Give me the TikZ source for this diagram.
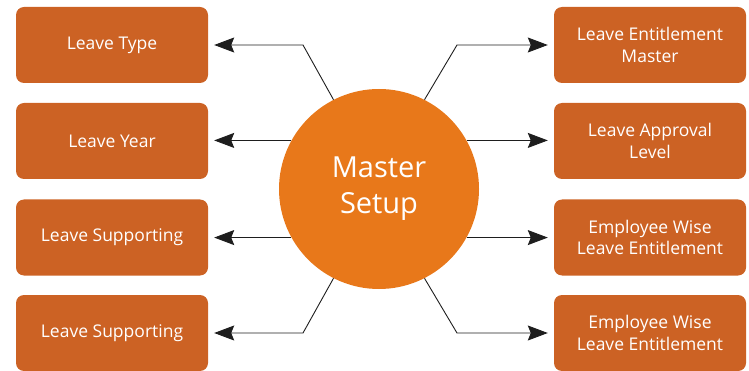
\documentclass[tikz,border=0pt]{standalone}
\usepackage{fontspec}
\setmainfont{Open Sans}
\usetikzlibrary{arrows.meta}
\definecolor{boxorange}{HTML}{CC6224}
\definecolor{circorange}{HTML}{E8781A}
\definecolor{linegray}{HTML}{1E1E1E}
\tikzset{
  setupbox/.style={fill=boxorange, rounded corners=8pt, minimum width=192pt, minimum height=76pt,
    text=white, align=center, font=\fontsize{17.5}{21.5}\selectfont, inner sep=0pt},
  link/.style={draw=linegray, line width=0.9pt, -{Stealth[length=20pt,width=15pt,inset=3pt]}, shorten >=6pt}
}
\begin{document}
\begin{tikzpicture}[x=1pt, y=-1pt]
    \useasboundingbox (0,0) rectangle (749,371);
    % Boxes
    \node[setupbox] (ltype) at (112,45) {Leave Type};
    \node[setupbox] (lyear) at (112,141) {Leave Year};
    \node[setupbox] (lsup1) at (112,237.5) {Leave Supporting};
    \node[setupbox] (lsup2) at (112,333) {Leave Supporting};
    \node[setupbox] (lentm) at (650,45) {Leave Entitlement\\Master};
    \node[setupbox] (lappr) at (650,141) {Leave Approval\\Level};
    \node[setupbox] (ewle1) at (650,237.5) {Employee Wise\\Leave Entitlement};
    \node[setupbox] (ewle2) at (650,333) {Employee Wise\\Leave Entitlement};

    % Centre
    \node[circle, fill=circorange, minimum size=200pt, inner sep=0pt, text=white, align=center,
      font=\fontsize{29}{36}\selectfont] (master) at (379,189) {Master\\Setup};

    % Knees
    \coordinate (kl1) at (303,45);
    \coordinate (kl4) at (303,333);
    \coordinate (kr1) at (457,45);
    \coordinate (kr4) at (457,333);

    % Connections
    \draw[link] (master.117) -- (kl1) -- (ltype.east);
    \draw[link] (master.151) -- (master.151 -| lyear.east);
    \draw[link] (master.209) -- (master.209 -| lsup1.east);
    \draw[link] (master.243) -- (kl4) -- (lsup2.east);
    \draw[link] (master.63) -- (kr1) -- (lentm.west);
    \draw[link] (master.29) -- (master.29 -| lappr.west);
    \draw[link] (master.331) -- (master.331 -| ewle1.west);
    \draw[link] (master.297) -- (kr4) -- (ewle2.west);
\end{tikzpicture}
\end{document}
